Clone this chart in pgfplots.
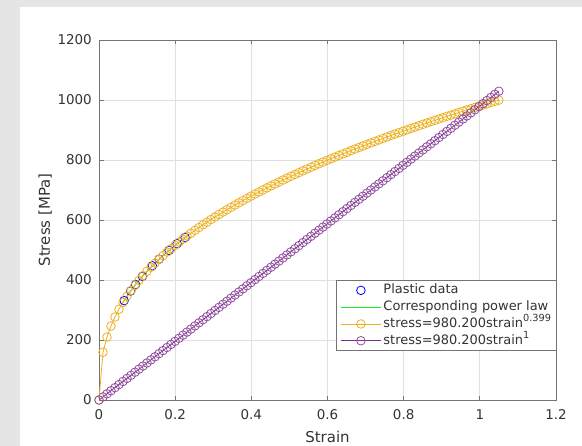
\documentclass[border=0pt]{standalone}
\usepackage{fontspec}
\setmainfont{DejaVu Sans}
\usepackage{pgfplots}
\usepackage{pgfplotstable}
\pgfplotsset{compat=1.18}
\definecolor{myyellow}{rgb}{0.929,0.694,0.125}
\definecolor{mypurple}{rgb}{0.494,0.184,0.556}
\definecolor{mygreen}{rgb}{0.1,0.95,0.1}
\definecolor{figgray}{rgb}{0.9,0.9,0.9}
\definecolor{axgray}{rgb}{0.45,0.45,0.45}
\definecolor{txtgray}{rgb}{0.2,0.2,0.2}
\definecolor{gridgray}{rgb}{0.88,0.88,0.88}
\newcommand{\sups}[1]{\raisebox{0.42em}{\fontsize{9.8}{10}\selectfont #1}}

\pgfplotstableread{
x yp yl
0 0 0
0.0105 159.1 10.3
0.021 209.8 20.6
0.0315 246.7 30.9
0.042 276.7 41.2
0.0525 302.5 51.5
0.063 325.3 61.8
0.0735 345.9 72.0
0.084 364.9 82.3
0.0945 382.4 92.6
0.105 398.8 102.9
0.1155 414.3 113.2
0.126 428.9 123.5
0.1365 442.8 133.8
0.147 456.1 144.1
0.1575 468.9 154.4
0.168 481.1 164.7
0.1785 492.9 175.0
0.189 504.2 185.3
0.1995 515.2 195.5
0.21 525.9 205.8
0.2205 536.2 216.1
0.231 546.3 226.4
0.2415 556.0 236.7
0.252 565.6 247.0
0.2625 574.9 257.3
0.273 583.9 267.6
0.2835 592.8 277.9
0.294 601.5 288.2
0.3045 609.9 298.5
0.315 618.2 308.8
0.3255 626.4 319.1
0.336 634.4 329.3
0.3465 642.2 339.6
0.357 649.9 349.9
0.3675 657.5 360.2
0.378 664.9 370.5
0.3885 672.2 380.8
0.399 679.4 391.1
0.4095 686.5 401.4
0.42 693.5 411.7
0.4305 700.3 422.0
0.441 707.1 432.3
0.4515 713.7 442.6
0.462 720.3 452.9
0.4725 726.8 463.1
0.483 733.2 473.4
0.4935 739.5 483.7
0.504 745.8 494.0
0.5145 751.9 504.3
0.525 758.0 514.6
0.5355 764.0 524.9
0.546 770.0 535.2
0.5565 775.8 545.5
0.567 781.6 555.8
0.5775 787.4 566.1
0.588 793.1 576.4
0.5985 798.7 586.7
0.609 804.3 596.9
0.6195 809.7 607.2
0.63 815.2 617.5
0.6405 820.6 627.8
0.651 825.9 638.1
0.6615 831.2 648.4
0.672 836.5 658.7
0.6825 841.6 669.0
0.693 846.8 679.3
0.7035 851.9 689.6
0.714 857.0 699.9
0.7245 861.9 710.2
0.735 866.9 720.4
0.7455 871.8 730.7
0.756 876.7 741.0
0.7665 881.6 751.3
0.777 886.4 761.6
0.7875 891.1 771.9
0.798 895.8 782.2
0.8085 900.5 792.5
0.819 905.2 802.8
0.8295 909.8 813.1
0.84 914.4 823.4
0.8505 918.9 833.7
0.861 923.4 844.0
0.8715 927.9 854.2
0.882 932.3 864.5
0.8925 936.7 874.8
0.903 941.1 885.1
0.9135 945.5 895.4
0.924 949.8 905.7
0.9345 954.1 916.0
0.945 958.4 926.3
0.9555 962.6 936.6
0.966 966.8 946.9
0.9765 971.0 957.2
0.987 975.1 967.5
0.9975 979.3 977.7
1.008 983.4 988.0
1.0185 987.4 998.3
1.029 991.5 1008.6
1.0395 995.5 1018.9
1.05 999.5 1029.2
}\curvedata

\pgfplotstableread{
x y
0.066 331.4
0.083 363.1
0.096 384.8
0.114 412.1
0.140 447.3
0.158 469.4
0.184 498.8
0.205 520.9
0.226 541.6
}\plasticdata

\pgfplotstableread{
x y
0.063 325.3
0.0735 345.9
0.084 364.9
0.0945 382.4
0.105 398.8
0.1155 414.3
0.126 428.9
0.1365 442.8
0.147 456.1
0.1575 468.9
0.168 481.1
0.1785 492.9
0.189 504.2
0.1995 515.2
0.21 525.9
0.2205 536.2
0.231 546.3
}\powerdata

\begin{document}
\begin{tikzpicture}
\path[use as bounding box] (0bp,0bp) rectangle (582bp,446bp);
\fill[figgray] (0bp,0bp) rectangle (582bp,446bp);
\fill[white] (20bp,0bp) rectangle (582bp,439bp);
\begin{axis}[
  at={(99bp,46bp)}, anchor=south west,
  scale only axis, width=457bp, height=360bp,
  xmin=0, xmax=1.2, ymin=0, ymax=1200,
  xtick={0,0.2,0.4,0.6,0.8,1,1.2},
  xticklabels={0,0.2,0.4,0.6,0.8,1,1.2},
  ytick={0,200,400,600,800,1000,1200},
  yticklabels={0,200,400,600,800,1000,1200},
  tick align=inside,
  major tick length=4.5bp,
  every tick/.style={axgray, line width=0.9bp},
  axis line style={axgray, line width=0.9bp},
  grid=major,
  grid style={gridgray, line width=0.7bp},
  ticklabel style={font=\fontsize{13.5}{16}\selectfont, text=txtgray},
  xticklabel style={inner sep=0pt, anchor=center, yshift=-15bp},
  yticklabel style={inner sep=0pt, anchor=east, xshift=-7bp},
  xlabel={Strain}, ylabel={Stress [MPa]},
  label style={font=\fontsize{15}{18}\selectfont, text=txtgray},
  xlabel style={at={(axis description cs:0.5,0)}, anchor=center, yshift=-37bp},
  ylabel style={at={(axis description cs:-0.118,0.5)}, anchor=center},
  legend image code/.code={\draw[mark repeat=2,mark phase=2,#1] plot coordinates {(0bp,0bp) (20bp,0bp) (40bp,0bp)};},
  legend style={at={(axis description cs:1.0022,0.3333)}, anchor=north east,
    draw=axgray, line width=0.9bp, fill=white,
    font=\fontsize{13}{15}\selectfont, text=txtgray,
    inner xsep=3.5bp, inner ysep=1.5bp, row sep=0bp,
    nodes={inner sep=2bp, text height=9.8bp, text depth=3bp}},
  legend cell align=left,
]
\addplot[only marks, mark=o, color=blue, mark size=4.3bp, mark options={line width=0.8bp}] table[x=x,y=y] {\plasticdata};
\addlegendentry{Plastic data}
\addplot[color=mygreen, line width=1bp, no marks,
  legend image code/.code={\draw[draw=mygreen, line width=1.1bp] (0bp,0bp) -- (40bp,0bp);}] table[x=x,y=y] {\powerdata};
\addlegendentry{Corresponding power law}
\addplot[color=myyellow, line width=0.8bp, mark=o, mark size=4.3bp, mark options={line width=0.8bp}] table[x=x,y=yp] {\curvedata};
\addlegendentry{stress=980.200strain\sups{0.399}}
\addplot[color=mypurple, line width=0.8bp, mark=o, mark size=4.3bp, mark options={line width=0.8bp, draw=mypurple!85!white}] table[x=x,y=yl] {\curvedata};
\addlegendentry{stress=980.200strain\sups{1}}
\end{axis}
\end{tikzpicture}
\end{document}
